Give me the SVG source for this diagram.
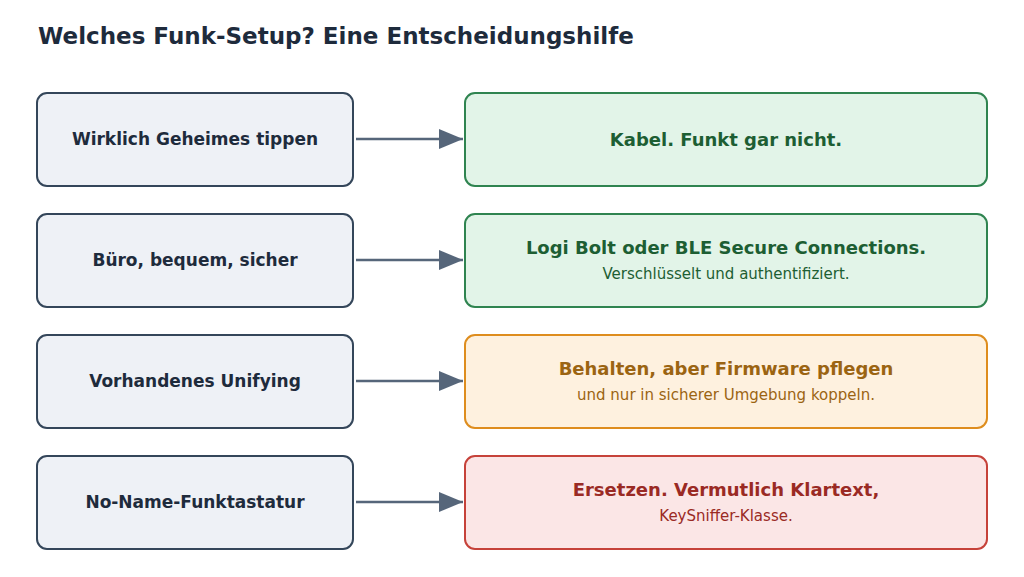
<svg xmlns="http://www.w3.org/2000/svg" width="1024" height="577" viewBox="0 0 1024 577">
<style>
text{font-family:"DejaVu Sans",sans-serif;text-anchor:middle}
.l rect{fill:#eef1f6;stroke:#34465a;stroke-width:2}
.l text{font-size:17px;font-weight:bold;fill:#1e2b3c}
.t{font-size:18px;font-weight:bold}
.s{font-size:15px}
.g rect{fill:#e2f4e8;stroke:#2f8450;stroke-width:2}
.g text{fill:#1d5e33}
.o rect{fill:#fef1df;stroke:#de8d1e;stroke-width:2}
.o text{fill:#9b6412}
.r rect{fill:#fbe6e6;stroke:#c6423a;stroke-width:2}
.r text{fill:#9a2a24}
.c line{stroke:#56667a;stroke-width:2.5}
</style>
<defs><marker id="a" markerWidth="10" markerHeight="10" refX="9" refY="5" orient="auto" markerUnits="userSpaceOnUse" viewBox="0 0 10 10"><path d="M0,0L10,5L0,10z" fill="#56667a"/></marker>
<marker id="m" viewBox="0 0 24 20" refX="24" refY="10" markerWidth="24" markerHeight="20" orient="auto" markerUnits="userSpaceOnUse"><path d="M0,0L24,10L0,20z" fill="#56667a"/></marker></defs>
<text x="38" y="44" style="font-size:23px;font-weight:bold;fill:#1e2b3c;text-anchor:start">Welches Funk-Setup? Eine Entscheidungshilfe</text>
<g id="n1" class="l"><rect x="37" y="93" width="316" height="93" rx="10"/><text x="195" y="145">Wirklich Geheimes tippen</text></g>
<g id="n2" class="l"><rect x="37" y="214" width="316" height="93" rx="10"/><text x="195" y="266">Büro, bequem, sicher</text></g>
<g id="n3" class="l"><rect x="37" y="335" width="316" height="93" rx="10"/><text x="195" y="387">Vorhandenes Unifying</text></g>
<g id="n4" class="l"><rect x="37" y="456" width="316" height="93" rx="10"/><text x="195" y="508">No-Name-Funktastatur</text></g>
<g id="r1" class="g"><rect x="465" y="93" width="522" height="93" rx="10"/><text class="t" x="726" y="146">Kabel. Funkt gar nicht.</text></g>
<g id="r2" class="g"><rect x="465" y="214" width="522" height="93" rx="10"/><text class="t" x="726" y="254">Logi Bolt oder BLE Secure Connections.</text><text class="s" x="726" y="279">Verschlüsselt und authentifiziert.</text></g>
<g id="r3" class="o"><rect x="465" y="335" width="522" height="93" rx="10"/><text class="t" x="726" y="375">Behalten, aber Firmware pflegen</text><text class="s" x="726" y="400">und nur in sicherer Umgebung koppeln.</text></g>
<g id="r4" class="r"><rect x="465" y="456" width="522" height="93" rx="10"/><text class="t" x="726" y="496">Ersetzen. Vermutlich Klartext,</text><text class="s" x="726" y="521">KeySniffer-Klasse.</text></g>
<g id="connectors" class="c">
<line x1="356" y1="139" x2="463" y2="139" marker-end="url(#m)"/>
<line x1="356" y1="260" x2="463" y2="260" marker-end="url(#m)"/>
<line x1="356" y1="381" x2="463" y2="381" marker-end="url(#m)"/>
<line x1="356" y1="502" x2="463" y2="502" marker-end="url(#m)"/>
</g>
</svg>
